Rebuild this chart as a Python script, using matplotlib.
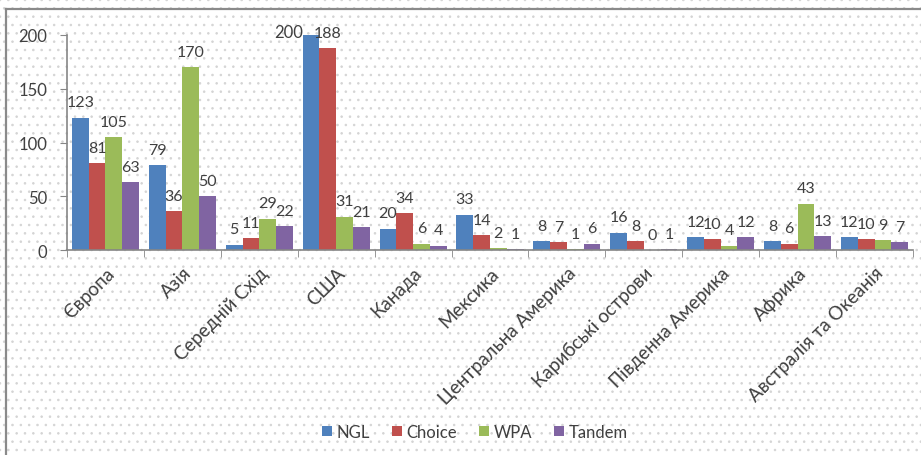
import matplotlib.pyplot as plt
from matplotlib.patches import Rectangle
from matplotlib.lines import Line2D
import numpy as np

plt.rcParams['font.family'] = ['Lato', 'DejaVu Sans']
plt.rcParams['hatch.linewidth'] = 0.6

regions = ['Європа', 'Азія', 'Середній Схід', 'США', 'Канада', 'Мексика',
           'Центральна Америка', 'Карибські острови', 'Південна Америка',
           'Африка', 'Австралія та Океанія']
ngl = [123, 79, 5, 200, 20, 33, 8, 16, 12, 8, 12]
choice = [81, 36, 11, 188, 34, 14, 7, 8, 10, 6, 10]
wpa = [105, 170, 29, 31, 6, 2, 1, 0, 4, 43, 9]
tandem = [63, 50, 22, 21, 4, 1, 6, 1, 12, 13, 7]

series = [('NGL', ngl, '#4F81BD'), ('Choice', choice, '#C0504D'),
          ('WPA', wpa, '#9BBB59'), ('Tandem', tandem, '#8064A2')]

fig = plt.figure(figsize=(9.21, 4.56), dpi=100)
# dotted chart-area background + frame (top and left edges only visible)
bg = Rectangle((0, 0), 1, 1, transform=fig.transFigure, facecolor='white',
               edgecolor='#d4d4d4', hatch='..', linewidth=0, zorder=-10)
fig.patches.append(bg)
fig.lines.append(Line2D([6/921, 1], [1-10/456, 1-10/456], transform=fig.transFigure,
                        color='#8a8a8a', lw=1.6))
fig.lines.append(Line2D([6/921, 6/921], [0, 1-10/456], transform=fig.transFigure,
                        color='#8a8a8a', lw=1.6))

ax = fig.add_axes([67/921, 1-251/456, 846/921, 215/456])
ax.patch.set_alpha(0)

x = np.arange(len(regions))
w = 0.218
top = max(max(s[1]) for s in series)
for i, (name, vals, col) in enumerate(series):
    pos = x + (i - 1.5) * w
    bars = ax.bar(pos, vals, w, color=col, label=name, zorder=2)
    for b, v in zip(bars, vals):
        cx = b.get_x() + b.get_width()/2
        if v == top:
            # no room above the tallest bar: label sits beside it
            ax.annotate(str(v), (cx, v), xytext=(-16, 2), textcoords='offset points',
                        ha='center', va='center', fontsize=12, color='#404040',
                        annotation_clip=False)
        else:
            ax.annotate(str(v), (cx, v), xytext=(0, 6), textcoords='offset points',
                        ha='center', va='bottom', fontsize=11.5, color='#404040',
                        annotation_clip=False)

ax.set_xlim(-0.5, len(regions) - 0.5)
ax.set_ylim(0, 200)
ax.set_yticks([0, 50, 100, 150, 200])
ax.tick_params(axis='y', labelsize=12, colors='#404040', length=5, color='#868686', pad=9)
ax.set_xticks(x)
ax.set_xticklabels(regions, rotation=45, ha='right', rotation_mode='anchor',
                   fontsize=13.5, color='#404040')
ax.tick_params(axis='x', length=0, pad=10)
ax.set_xticks(np.arange(len(regions) + 1) - 0.5, minor=True)
ax.tick_params(axis='x', which='minor', length=5, color='#868686')
for s in ['top', 'right']:
    ax.spines[s].set_visible(False)
for s in ['left', 'bottom']:
    ax.spines[s].set_color('#868686')
    ax.spines[s].set_linewidth(1.2)

ax.legend(loc='center', bbox_to_anchor=(475/921, 1-433/456), bbox_transform=fig.transFigure,
          ncol=4, frameon=False, fontsize=12, handlelength=0.6, handleheight=0.6,
          handletextpad=0.3, columnspacing=1.3, labelcolor='#404040')

fig.savefig('out.png', dpi=100)
